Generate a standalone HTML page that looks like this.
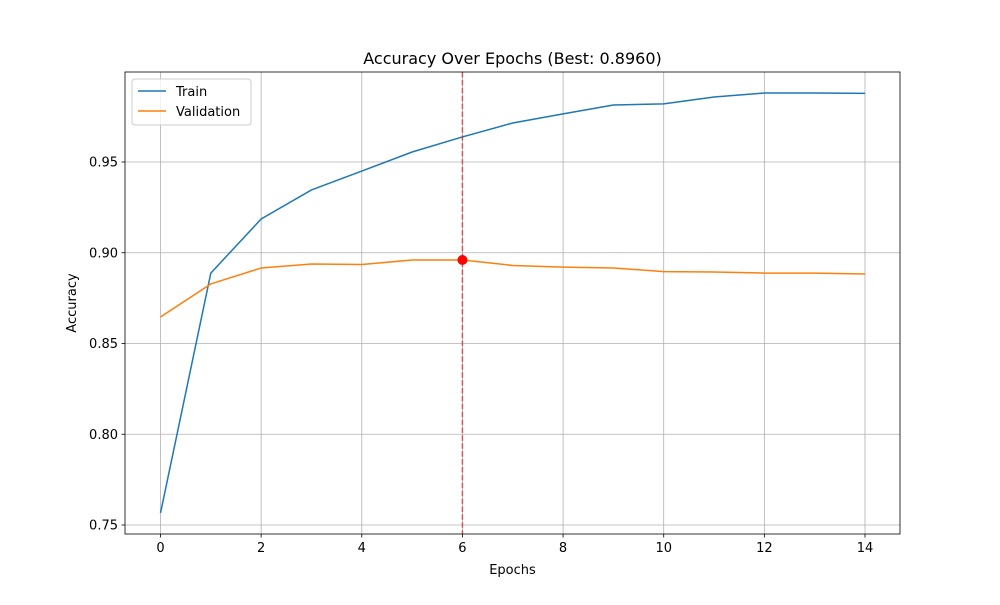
<!DOCTYPE html>
<html><head><meta charset="utf-8">
<style>
body{margin:0;background:#fff;font-family:"Liberation Sans","DejaVu Sans",sans-serif;}
svg text{font-family:"DejaVu Sans","Liberation Sans",sans-serif;}
</style></head>
<body>
<svg id="chart" width="1000" height="600" viewBox="0 0 1000 600" xmlns="http://www.w3.org/2000/svg">
<rect width="1000" height="600" fill="#fff"/>
<g id="grid"></g>
<g id="series"></g>
<rect x="125" y="72" width="775" height="462" fill="none" stroke="#000" stroke-width="0.8"/>
<g id="ticks"></g>
<text x="512.5" y="64" text-anchor="middle" font-size="16">Accuracy Over Epochs (Best: 0.8960)</text>
<text x="512.5" y="574" text-anchor="middle" font-size="13">Epochs</text>
<text x="76" y="303" text-anchor="middle" font-size="13" transform="rotate(-90 76 303)">Accuracy</text>
<g>
<rect x="132" y="79" width="119" height="46" rx="3" fill="#fff" fill-opacity="0.8" stroke="#ccc"/>
<g><line x1="138" y1="91" x2="166" y2="91" stroke="#1f77b4" stroke-width="1.5"/><text x="176" y="96" font-size="13">Train</text></g>
<g><line x1="138" y1="111" x2="166" y2="111" stroke="#ff7f0e" stroke-width="1.5"/><text x="176" y="116" font-size="13">Validation</text></g>
</g>
</svg>
<script>
const epochs=[0,1,2,3,4,5,6,7,8,9,10,11,12,13,14];
const trainAcc=[0.7566,0.8888,0.9186,0.9346,0.945,0.9555,0.9638,0.9715,0.9765,0.9814,0.982,0.9858,0.988,0.988,0.9878];
const valAcc=[0.8646,0.8828,0.8916,0.8938,0.8935,0.896,0.896,0.893,0.8921,0.8916,0.8896,0.8894,0.8888,0.8888,0.8883];
const xTicks=[0,2,4,6,8,10,12,14];
const yTicks=[0.75,0.80,0.85,0.90,0.95];
const yTickLabels=["0.75","0.80","0.85","0.90","0.95"];
const bestEpoch=6;const bestVal=0.896;
const NS="http://www.w3.org/2000/svg";
function xs(v){return 160.5+v*(865-160.5)/14;}
function ys(v){return 525-(v-0.75)*(525-162)/0.2;}
function mk(tag,attrs,parent){const e=document.createElementNS(NS,tag);for(const k in attrs)e.setAttribute(k,attrs[k]);parent.appendChild(e);return e;}
const grid=document.getElementById('grid'),ticks=document.getElementById('ticks'),series=document.getElementById('series');
xTicks.forEach(t=>{const x=xs(t);
 const g=mk('line',{x1:x,x2:x,y1:72,y2:534,stroke:'#b0b0b0','stroke-width':0.8},grid);
 
 
 mk('line',{x1:x,x2:x,y1:534,y2:537.5,stroke:'#000','stroke-width':0.8},ticks);
 const tx=mk('text',{x:x,y:552,'text-anchor':'middle','font-size':13},ticks);tx.textContent=t;
 
 });
yTicks.forEach((t,i)=>{const y=ys(t);
 const g=mk('line',{x1:125,x2:900,y1:y,y2:y,stroke:'#b0b0b0','stroke-width':0.8},grid);
 
 
 mk('line',{x1:121.5,x2:125,y1:y,y2:y,stroke:'#000','stroke-width':0.8},ticks);
 const tx=mk('text',{x:118,y:y+4.5,'text-anchor':'end','font-size':13},ticks);tx.textContent=yTickLabels[i];
 
 });
function line(vals,color,name){const p=mk('polyline',{points:vals.map((v,i)=>xs(epochs[i])+','+ys(v)).join(' '),fill:'none',stroke:color,'stroke-width':1.5},series);
 
 }
line(trainAcc,'#1f77b4','train-line');
line(valAcc,'#ff7f0e','validation-line');
const bl=mk('line',{x1:xs(bestEpoch),x2:xs(bestEpoch),y1:72,y2:534,stroke:'#d62728','stroke-width':1.5,'stroke-dasharray':'5.5,2.4',opacity:0.7},series);


const bp=mk('circle',{cx:xs(bestEpoch),cy:ys(bestVal),r:5,fill:'#ff0000'},series);


</script>
</body></html>
